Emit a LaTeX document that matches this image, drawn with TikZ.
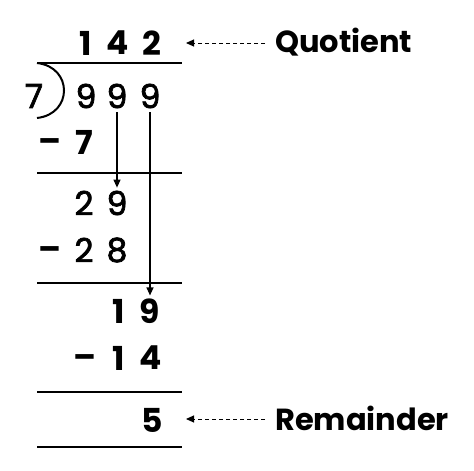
\documentclass[tikz,border=0pt]{standalone}
\usepackage{fontspec}
\setmainfont{Poppins}
\newfontfamily\medfont[FakeBold=2.2]{Poppins}
\usetikzlibrary{arrows.meta}
\tikzset{
  digit/.style={font=\fontsize{33}{33}\selectfont\bfseries, inner sep=0pt},
  plain/.style={font=\fontsize{33}{33}\medfont, inner sep=0pt},
  minus/.style={font=\fontsize{33}{33}\selectfont\bfseries, inner sep=0pt, yshift=-4pt},
  label/.style={font=\fontsize{30.5}{30.5}\selectfont\bfseries, inner sep=0pt, anchor=west},
  bar/.style={line width=2.4pt},
  carry/.style={line width=1.2pt, -{Triangle[length=8pt,width=7pt]}},
  pointer/.style={line width=1pt, dashed, dash pattern=on 4pt off 3pt, -{Triangle[length=8pt,width=7pt]}}
}
\begin{document}
\begin{tikzpicture}[x=1pt,y=-1pt]
    \useasboundingbox (0,0) rectangle (474,471);
    % quotient
    \node[digit](q1) at (86,43){1};
    \node[digit](q2) at (118,43){4};
    \node[digit](q3) at (152,43){2};
    \draw[bar](37,63) -- (182,63);
    % divisor and dividend
    \node[plain](dv) at (34,96){7};
    \draw[line width=2pt](37,63) .. controls (73,67) and (73,114) .. (37,118);
    \node[plain](d1) at (86,96){9};
    \node[plain](d2) at (117,96){9};
    \node[plain](d3) at (150,96){9};
    \node[minus](m1) at (50,142){\textendash};
    \node[digit](s1) at (84,142){7};
    \draw[bar](37,173) -- (182,173);
    \node[plain](r1) at (84,203){2};
    \node[plain](r2) at (117,203){9};
    \node[minus](m2) at (50,250){\textendash};
    \node[plain](s2) at (84,250){2};
    \node[plain](s3) at (117,250){8};
    \draw[bar](37,283) -- (182,283);
    \node[digit](t1) at (119,311){1};
    \node[digit](t2) at (150,311){9};
    \node[minus](m3) at (85,358){\textendash};
    \node[digit](s4) at (119,358){1};
    \node[digit](s5) at (151,358){4};
    \draw[bar](37,392) -- (182,392);
    \node[digit](rem) at (152,420){5};
    \draw[bar](37,447) -- (182,447);
    % bring-down arrows
    \draw[carry]([yshift=-4pt]d2.south) -- ([yshift=3pt]r2.north);
    \draw[carry]([yshift=-4pt]d3.south) -- ([yshift=3pt]t2.north);
    % labels
    \node[label](quo) at (275,42){Quotient};
    \node[label](rmd) at (275,418){Remainder};
    \draw[pointer]([xshift=-10pt,yshift=-1pt]quo.west) -- (186,43);
    \draw[pointer]([xshift=-10pt,yshift=-1pt]rmd.west) -- (186,419);
\end{tikzpicture}
\end{document}
